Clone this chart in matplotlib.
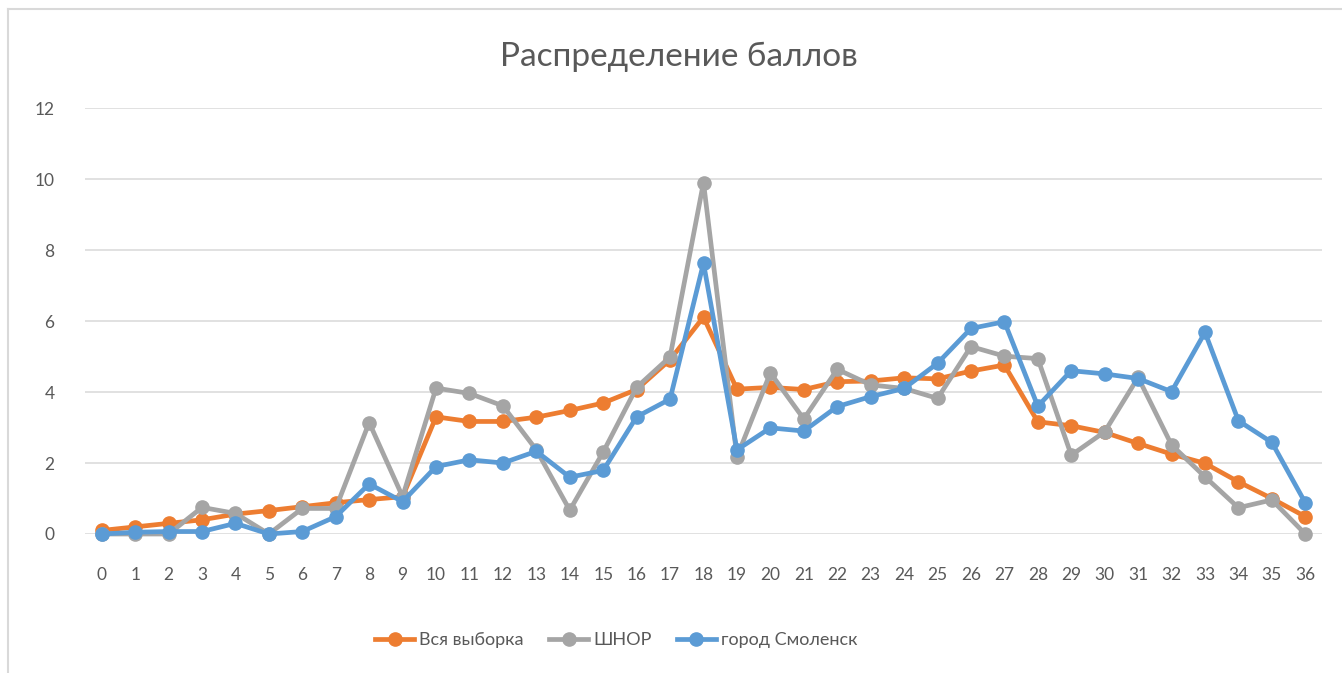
import matplotlib
matplotlib.use("Agg")
import matplotlib.pyplot as plt
from matplotlib.lines import Line2D

# Data
scores = list(range(0, 37))
vsya_vyborka = [0.1, 0.2, 0.3, 0.4, 0.56, 0.66, 0.77, 0.88, 0.97, 1.05,
                3.3, 3.17, 3.17, 3.29, 3.48, 3.69, 4.07, 4.91, 6.11, 4.08,
                4.13, 4.07, 4.29, 4.31, 4.4, 4.37, 4.59, 4.76, 3.16, 3.05,
                2.86, 2.55, 2.25, 1.99, 1.47, 1.0, 0.49]
shnor = [0.0, 0.0, 0.0, 0.75, 0.58, 0.0, 0.72, 0.72, 3.14, 1.05,
         4.11, 3.96, 3.61, 2.37, 0.67, 2.31, 4.13, 4.99, 9.9, 2.17,
         4.54, 3.24, 4.64, 4.2, 4.1, 3.82, 5.28, 5.01, 4.94, 2.22,
         2.88, 4.41, 2.51, 1.61, 0.74, 0.96, 0.0]
smolensk = [0.0, 0.05, 0.07, 0.07, 0.3, 0.0, 0.07, 0.49, 1.41, 0.91,
            1.9, 2.09, 2.0, 2.33, 1.6, 1.79, 3.3, 3.8, 7.63, 2.37,
            2.99, 2.9, 3.59, 3.87, 4.1, 4.81, 5.79, 5.98, 3.6, 4.6,
            4.51, 4.38, 4.01, 5.68, 3.19, 2.58, 0.88]
series_names = ["Вся выборка", "ШНОР", "город Смоленск"]
series_colors = ["#ED7D31", "#A5A5A5", "#5B9BD5"]
y_ticks = [0, 2, 4, 6, 8, 10, 12]
title = "Распределение баллов"

plt.rcParams['font.family'] = ['Lato', 'DejaVu Sans']

W, H = 1342, 673
fig = plt.figure(figsize=(W / 100, H / 100), dpi=100)
ax = fig.add_axes([85 / W, (H - 534) / H, 1237 / W, 426 / H])

for vals, name, col in zip([vsya_vyborka, shnor, smolensk], series_names, series_colors):
    ax.plot(scores, vals, color=col, lw=3.4, marker='o', markersize=9.5,
            label=name, clip_on=False, solid_joinstyle='round')

ax.set_xlim(-0.5, 36.5)
ax.set_ylim(0, 12)
ax.set_yticks(y_ticks)
ax.set_xticks(scores)
ax.set_xticklabels([str(s) for s in scores])
ax.grid(axis='y', color='#D9D9D9', lw=1.1)
ax.set_axisbelow(True)
for s in ax.spines.values():
    s.set_visible(False)
ax.tick_params(axis='both', length=0, labelsize=12.5, colors='#595959')
ax.tick_params(axis='x', pad=24)
ax.tick_params(axis='y', pad=22)

fig.text(679 / W, 1 - 57 / H, title, ha='center', va='center',
         fontsize=24, color='#595959', fontweight='normal')

leg = fig.legend(loc='center', bbox_to_anchor=(616 / W, 1 - 640 / H), ncol=3,
                 frameon=False, fontsize=13, handlelength=2.2,
                 handletextpad=0.25, columnspacing=1.4)
for t in leg.get_texts():
    t.set_color('#595959')

# chart border (top and left visible)
fig.add_artist(Line2D([8 / W, 1], [1 - 9 / H, 1 - 9 / H], transform=fig.transFigure,
                      color='#D9D9D9', lw=1.5))
fig.add_artist(Line2D([8 / W, 8 / W], [0, 1 - 9 / H], transform=fig.transFigure,
                      color='#D9D9D9', lw=1.5))

fig.savefig("out.png", dpi=100, facecolor='white')
